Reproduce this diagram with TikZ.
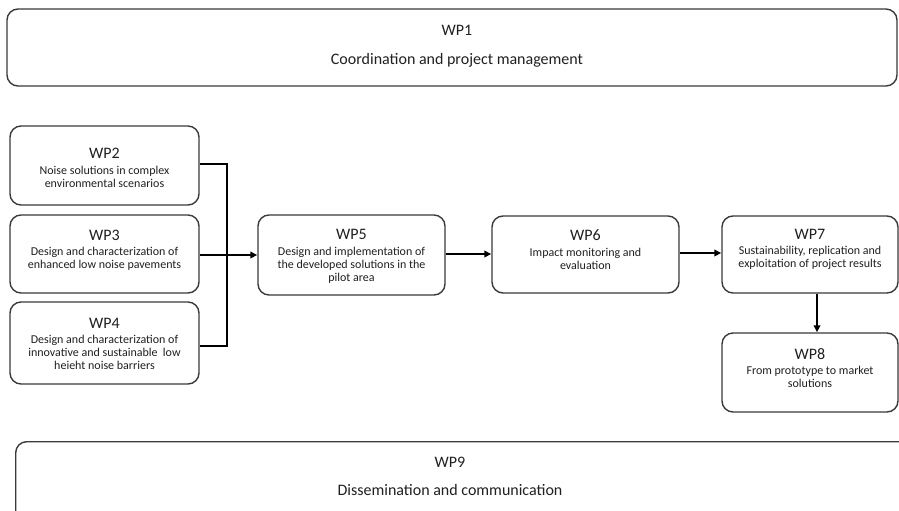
\documentclass[tikz,border=0pt]{standalone}
\usepackage{fontspec}
\setmainfont{Carlito}
\usetikzlibrary{arrows.meta}
\definecolor{boxline}{HTML}{3A3A3A}
\definecolor{txt}{HTML}{202020}
\tikzset{
  wpbox/.style={draw=boxline, line width=1.4pt, rounded corners=11pt, fill=white,
    minimum width=#1, inner sep=0pt},
  wptext/.style={text=txt, align=center, inner sep=0pt, font=\fontsize{12}{13}\selectfont},
  bigtext/.style={text=txt, inner sep=0pt, anchor=base, font=\fontsize{16}{18}\selectfont},
  conn/.style={draw=black, line width=1.8pt},
  arr/.style={conn, -{Triangle[length=7pt,width=6.5pt]}},
}
\newcommand{\wptitle}[1]{{\fontsize{16}{18}\selectfont #1}\\[2.5pt]}
\begin{document}
\begin{tikzpicture}[x=1pt,y=-1pt]
\useasboundingbox (0,0) rectangle (899,511);
\begin{scope}
\clip (0,0) rectangle (899,511);
% WP1
\node[wpbox=890pt, minimum height=77pt] (wp1) at (452,47.5) {};
\node[bigtext] (wp1a) at (457,36) {WP1};
\node[bigtext] (wp1b) at (457,64) {Coordination and project management};
% WP9
\node[wpbox=930pt, minimum height=100pt, anchor=north west] (wp9) at (15,441) {};
\node[bigtext] (wp9a) at (450,467) {WP9};
\node[bigtext] (wp9b) at (450,495.5) {Dissemination and communication};
\end{scope}
% small boxes
\node[wpbox=189pt, minimum height=79pt] (wp2) at (104.5,165.5) {};
\node[wptext] (wp2t) at (104.5,168) {\wptitle{WP2}Noise solutions in complex\\environmental scenarios};
\node[wpbox=189pt, minimum height=78pt] (wp3) at (104.5,254) {};
\node[wptext] (wp3t) at (104.5,250.5) {\wptitle{WP3}Design and characterization of\\enhanced low noise pavements};
\node[wpbox=189pt, minimum height=82pt] (wp4) at (104.5,343) {};
\node[wptext] (wp4t) at (104.5,344) {\wptitle{WP4}Design and characterization of\\innovative and sustainable~ low\\heieht noise barriers};
\node[wpbox=187pt, minimum height=80pt] (wp5) at (351.5,255) {};
\node[wptext] (wp5t) at (351.5,256.5) {\wptitle{WP5}Design and implementation of\\the developed solutions in the\\pilot area};
\node[wpbox=187pt, minimum height=77pt] (wp6) at (585.5,254.5) {};
\node[wptext] (wp6t) at (585.5,249.5) {\wptitle{WP6}Impact monitoring and\\evaluation};
\node[wpbox=176pt, minimum height=77pt] (wp7) at (810,254.5) {};
\node[wptext] (wp7t) at (810,249.5) {\wptitle{WP7}Sustainability, replication and\\exploitation of project results};
\node[wpbox=176pt, minimum height=79pt] (wp8) at (810,372.5) {};
\node[wptext] (wp8t) at (810,368) {\wptitle{WP8}From prototype to market\\solutions};
% connectors
\coordinate (j) at (227,255);
\draw[conn] ([yshift=1.5pt]wp2.east) -| (j) |- ([yshift=-3pt]wp4.east);
\draw[arr] (wp3.east |- j) -- (wp5.west |- j);
\draw[arr] ([yshift=1pt]wp5.east) -- ([yshift=1pt]wp5.east -| wp6.west);
\draw[arr] ([yshift=1.5pt]wp6.east) -- ([yshift=1.5pt]wp6.east -| wp7.west);
\draw[arr] ([xshift=7pt]wp7.south) -- ([xshift=7pt]wp8.north);
\end{tikzpicture}
\end{document}
